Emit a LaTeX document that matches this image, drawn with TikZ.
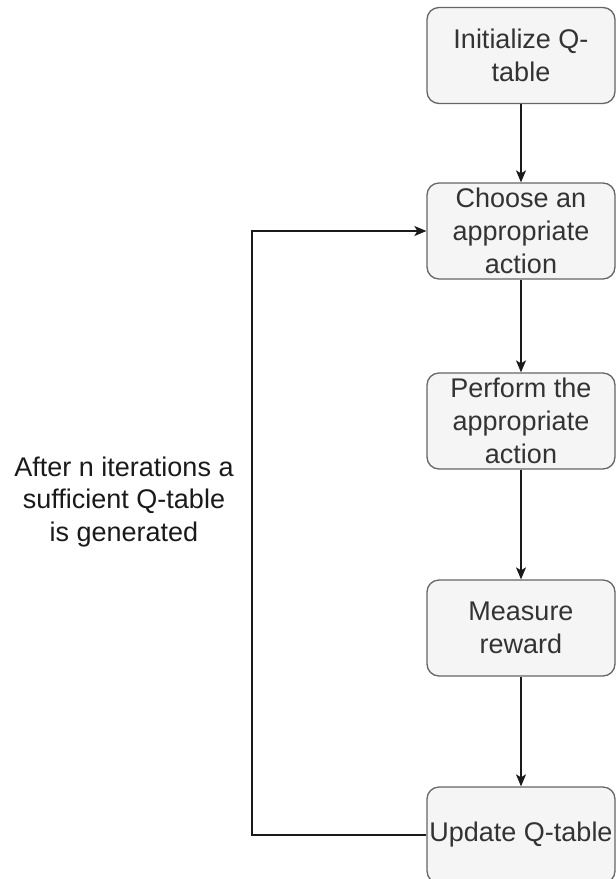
\documentclass[tikz,border=0pt]{standalone}
\usepackage{fontspec}
\setmainfont{Liberation Sans}
\usetikzlibrary{arrows.meta}
\definecolor{boxfill}{HTML}{F5F5F5}
\definecolor{boxline}{HTML}{666666}
\definecolor{boxtext}{HTML}{333333}
\definecolor{wire}{HTML}{1A1A1A}
\begin{document}
\begin{tikzpicture}[x=1pt,y=-1pt,
  stepbox/.style={draw=boxline, fill=boxfill, line width=1.3pt, rounded corners=12pt,
    minimum width=188pt, minimum height=96pt, inner sep=0pt, align=center,
    text=boxtext, font=\fontsize{27}{33}\selectfont},
  flow/.style={draw=wire, line width=1.3pt, -{Stealth[length=12pt,width=10pt,inset=3pt]}},
  note/.style={align=center, text=wire, font=\fontsize{27}{32.5}\selectfont}]
\clip (0,0) rectangle (616,879);
\fill[white] (0,0) rectangle (616,879);

\node[stepbox] (init) at (521,55.5) {Initialize Q-\\table};
\node[stepbox] (choose) at (521,231) {Choose an\\appropriate\\action};
\node[stepbox] (perform) at (521,421) {Perform the\\appropriate\\action};
\node[stepbox] (measure) at (521,628) {Measure\\reward};
\node[stepbox] (update) at (521,835) {Update Q-table};

\draw[flow] (init) -- (choose);
\draw[flow] (choose) -- (perform);
\draw[flow] (perform) -- (measure);
\draw[flow] (measure) -- (update);

\coordinate (loopbot) at (252,835);
\coordinate (looptop) at (252,231);
\draw[flow] (update.west) -- (loopbot) -- (looptop) -- (choose.west);

\node[note] (iter) at (124,502) {After n iterations a\\sufficient Q-table\\is generated};
\end{tikzpicture}
\end{document}
